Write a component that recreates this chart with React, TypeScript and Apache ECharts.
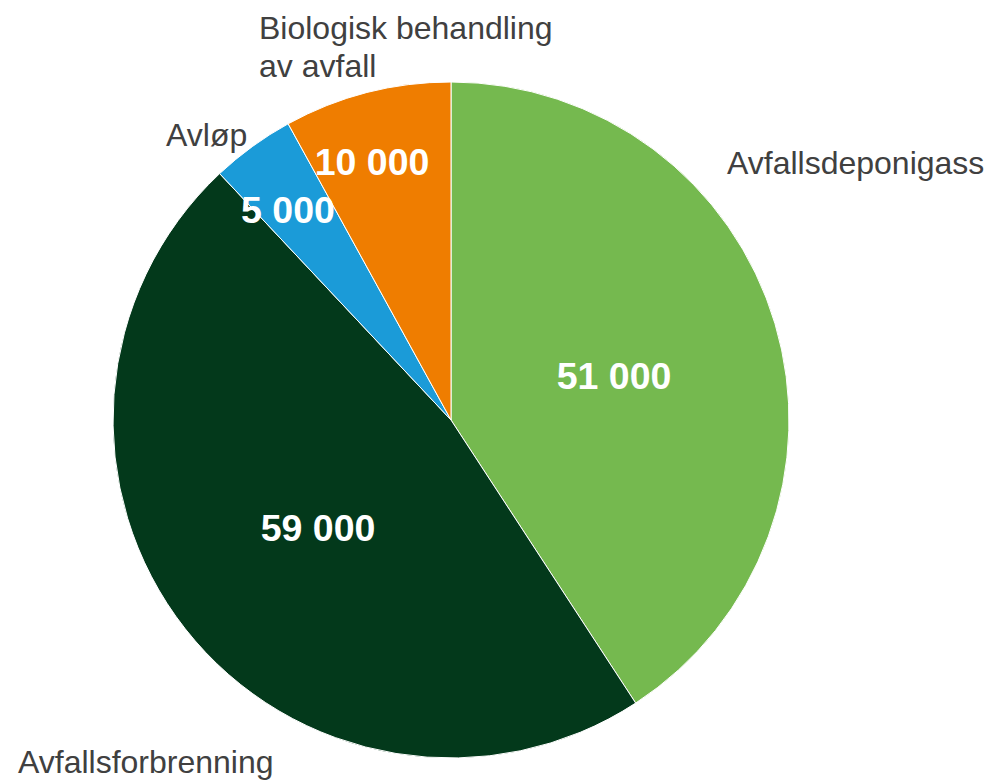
import React, { useEffect, useRef } from "react";
import * as echarts from "echarts";

const categories = [
  "Avfallsdeponigass",
  "Avfallsforbrenning",
  "Avløp",
  "Biologisk behandling\nav avfall",
];
const values = [51000, 59000, 5000, 10000];
const colors = ["#75b94f", "#03391b", "#1b9bd8", "#ef7d00"];

// label anchor positions (px) for names and values
const nameLabelPos = [
  [727, 163],
  [18, 762],
  [166, 135],
  [259, 47],
];
const valueLabelPos = [
  [614, 376],
  [318, 528],
  [288, 210],
  [372, 162],
];

const fmt = (v: number) => String(v).replace(/\B(?=(\d{3})+(?!\d))/g, " ");

export default function App() {
  const ref = useRef<HTMLDivElement>(null);
  useEffect(() => {
    if (!ref.current) return;
    const chart = echarts.init(ref.current, undefined, { renderer: "svg" });
    const data = categories.map((name, i) => ({
      name,
      value: values[i],
      itemStyle: { color: colors[i] },
    }));
    const font = "'Liberation Sans', Arial, sans-serif";
    chart.setOption({
      animation: false,
      backgroundColor: "#ffffff",
      series: [
        {
          type: "pie",
          center: [451, 420],
          radius: [0, 338],
          startAngle: 90,
          clockwise: true,
          silent: true,
          itemStyle: { borderColor: "#ffffff", borderWidth: 1 },
          label: {
            show: true,
            position: "inside",
            formatter: (p: any) => fmt(p.value),
            color: "#ffffff",
            fontFamily: font,
            fontWeight: "bold",
            fontSize: 37.5,
            overflow: "none",
          },
          labelLine: { show: false },
          labelLayout: (p: any) => ({
            x: valueLabelPos[p.dataIndex][0],
            y: valueLabelPos[p.dataIndex][1],
            align: "center",
            verticalAlign: "middle",
          }),
          data,
        },
        {
          type: "pie",
          center: [451, 420],
          radius: [0, 338],
          startAngle: 90,
          clockwise: true,
          silent: true,
          z: 1,
          itemStyle: { color: "rgba(0,0,0,0)", borderWidth: 0 },
          label: {
            show: true,
            position: "outside",
            formatter: (p: any) => p.name,
            color: "#404040",
            fontFamily: font,
            fontSize: 32,
            lineHeight: 38,
            overflow: "none",
            width: 400,
            edgeDistance: 0,
            bleedMargin: 0,
          },
          labelLine: { show: false },
          labelLayout: (p: any) => ({
            x: nameLabelPos[p.dataIndex][0],
            y: nameLabelPos[p.dataIndex][1],
            align: "left",
            verticalAlign: "middle",
          }),
          data: categories.map((name, i) => ({
            name,
            value: values[i],
            itemStyle: { color: "rgba(0,0,0,0)" },
          })),
        },
      ],
    });
    return () => chart.dispose();
  }, []);
  return (
    <div
      ref={ref}
      style={{ position: "absolute", left: 0, top: 0, width: 989, height: 780 }}
    />
  );
}
